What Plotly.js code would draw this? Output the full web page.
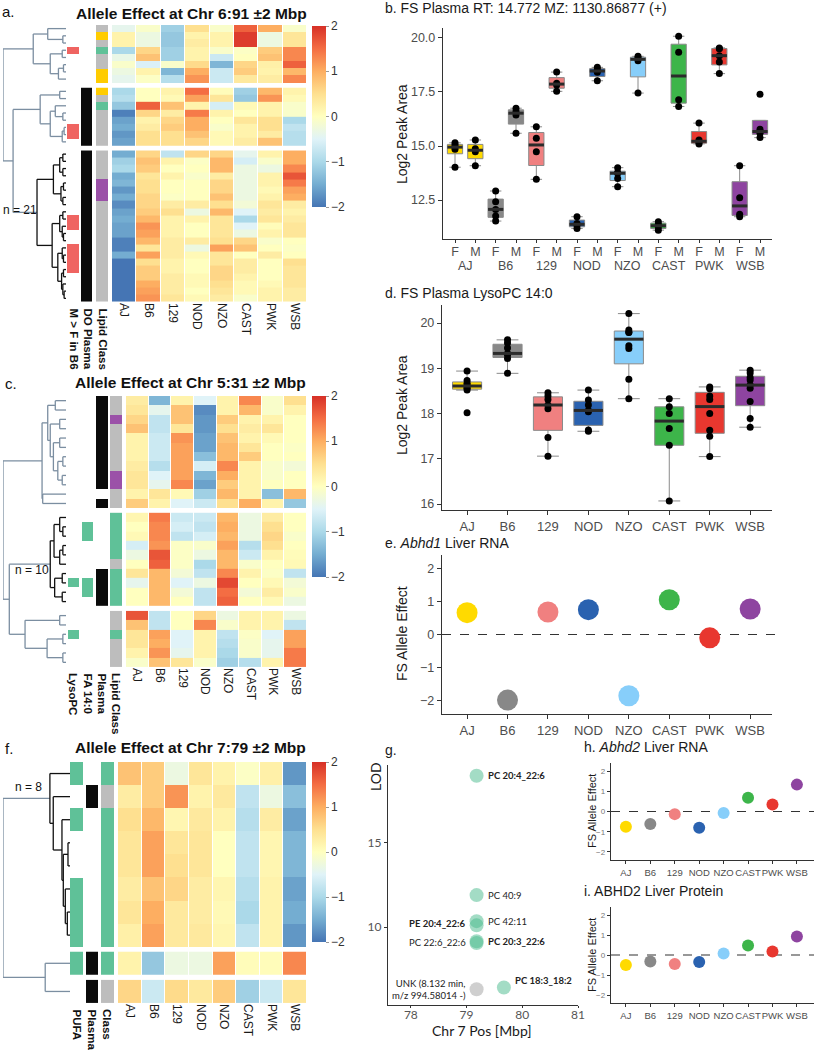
<!DOCTYPE html>
<html><head><meta charset="utf-8">
<script src="https://cdn.plot.ly/plotly-3.0.1.min.js"></script>
<style>body{margin:0;background:#fff}#chart{width:814px;height:1050px}</style>
</head><body><div id="chart"></div>
<script>
// ---------------- DATA ----------------
const strains = ['AJ','B6','129','NOD','NZO','CAST','PWK','WSB'];
const strainColors = ['#FFDA00','#888888','#F08080','#2A62B0','#87CEFA','#3DB54A','#E8372F','#8E44A0'];
const sexes = ['F','M'];
const lipidClassColors = ['#BDBDBD','#FFCC00','#5FC198','#9B51A8'];

// panel a: allele effects (rows x strains)
const aBlock1 = [
 [-0.4,-0.1,-1.1,0.5,-0.1,1.6,1.0,-0.1],
 [0.2,-0.3,-1.2,0.2,0.2,1.9,-0.3,0.4],
 [0.2,-0.3,-1.2,0.3,0.2,1.9,-0.3,0.4],
 [-1.0,0.6,-1.1,0.2,-0.1,-0.05,0.7,1.3],
 [-0.35,0.8,-1.1,0.2,-0.7,0.0,0.8,1.3],
 [-0.1,-0.55,-0.1,0.55,-1.4,0.6,0.25,1.6],
 [-0.3,0.2,-1.4,1.0,-0.7,0.7,0.2,0.9],
 [-0.4,-0.05,-0.9,1.2,-0.7,0.35,0.3,1.3]];
const aBlock2 = [
 [-1.0,0.0,0.2,1.5,0.05,-1.1,0.9,0.2],
 [-0.9,0.0,0.1,1.1,0.4,-1.2,1.2,0.1],
 [-1.2,1.6,0.8,0.2,-0.6,0.1,0.2,-0.1],
 [-1.9,0.6,0.3,1.4,0.2,0.0,0.2,-0.1],
 [-1.6,0.2,0.6,1.0,0.0,0.4,0.5,-1.0],
 [-1.5,0.3,0.7,1.0,-0.1,0.2,0.5,-0.8],
 [-1.7,0.5,0.5,0.8,0.1,0.2,0.3,-0.9],
 [-1.6,0.5,0.5,0.6,0.1,0.3,0.8,-0.9]];
const aBlock3 = [
 [-1.5,0.6,-0.8,0.6,0.6,-0.4,0.2,1.0],
 [-1.1,0.8,0.2,-0.05,0.9,-0.6,-0.1,1.0],
 [-1.0,0.7,0.0,0.0,0.9,-0.3,-0.3,1.3],
 [-1.5,0.4,0.2,-0.1,0.3,-0.3,0.2,1.7],
 [-1.4,0.5,0.0,0.0,0.6,-0.3,0.2,1.4],
 [-1.7,0.5,0.0,0.0,0.6,-0.3,0.1,1.1],
 [-1.5,0.6,-0.05,0.0,0.8,-0.3,0.2,1.0],
 [-1.8,0.6,0.3,0.3,0.5,-0.2,0.4,0.3],
 [-1.6,0.7,0.5,-0.3,0.9,-0.5,0.3,0.2],
 [-1.5,0.9,0.2,0.2,0.4,-1.0,0.4,0.3],
 [-1.6,1.2,0.2,0.0,0.4,-0.5,0.05,0.4],
 [-1.6,1.1,0.2,0.0,0.4,-0.3,0.2,0.4],
 [-1.9,0.9,0.3,0.3,0.5,0.6,-0.1,0.0],
 [-1.9,0.4,0.3,-0.3,1.1,0.8,0.0,-0.05],
 [-1.5,1.1,0.3,0.1,0.4,0.0,0.3,0.0],
 [-2.0,0.5,0.2,0.0,0.4,0.3,0.0,0.5],
 [-2.0,0.7,0.2,0.0,0.6,0.3,0.0,0.4],
 [-2.0,0.7,0.3,0.1,0.6,0.2,0.0,0.4],
 [-2.0,1.0,0.3,0.1,0.5,0.1,0.1,0.4],
 [-2.0,1.1,0.3,0.0,0.4,0.1,0.2,0.3],
 [-2.0,1.2,0.4,0.1,0.3,-0.1,0.2,0.3]];
const aMaleGtFemaleB6 = [0,0,0,1,0,0,0,0, 0,0,0,0,0,1,1,0, 0,0,0,0,0,0,0,0,0,1,1,0,0,1,1,1,1,0,0,0,0];
const aDOPlasma      = [0,0,0,0,0,0,0,0, 1,1,1,1,1,1,1,1, 1,1,1,1,1,1,1,1,1,1,1,1,1,1,1,1,1,1,1,1,1];
const aLipidClass    = [0,1,0,2,0,0,1,1, 1,0,2,0,0,0,0,0, 0,0,0,0,3,3,3,0,0,0,0,0,0,0,0,0,0,0,0,0,0];

// panel c
const cBlock1 = [
 [0.3,-1.4,0.2,-0.5,0.2,1.3,-0.1,0.5],
 [0.4,-0.4,0.8,-1.8,0.2,0.9,-0.1,0.2],
 [0.6,-0.8,0.8,-1.7,0.7,0.2,0.2,0.0],
 [0.8,-0.8,0.4,-1.7,0.5,0.3,0.4,0.0],
 [0.2,-0.7,1.2,-1.6,0.8,0.2,0.1,0.0],
 [0.2,-0.7,1.1,-1.6,0.9,0.4,0.0,-0.05],
 [0.2,-0.7,1.1,-1.3,0.9,0.7,0.0,0.0],
 [0.3,-0.9,1.1,-0.6,1.3,0.2,-0.1,-0.2],
 [0.4,-0.5,1.1,-1.4,1.0,0.2,-0.1,0.0],
 [0.4,-0.4,1.3,-1.6,0.7,0.2,0.0,0.0],
 [0.2,0.4,0.1,-1.1,0.9,0.2,-1.3,0.9],
 [0.7,0.2,-0.5,-0.7,0.5,1.0,0.2,-1.2]];
const cBlock2 = [
 [0.15,1.4,-0.7,-0.7,0.9,-0.3,0.3,0.0],
 [0.0,1.3,-0.6,-0.8,1.0,-0.3,0.5,0.0],
 [0.1,1.3,-0.8,-0.6,0.9,-0.3,0.6,-0.1],
 [-0.6,1.2,-0.05,-0.1,1.1,-0.9,0.5,0.0],
 [-0.3,1.7,-0.05,-0.3,0.9,-0.7,0.2,0.05],
 [0.0,1.6,-0.05,-1.0,0.9,-0.1,0.0,0.1],
 [0.4,0.9,-0.2,-0.8,1.3,0.2,-0.05,-0.8],
 [-0.4,0.9,-0.5,-0.3,1.8,0.0,0.1,-0.2],
 [0.0,0.9,-0.2,-0.8,1.5,-0.2,0.3,-0.1],
 [0.0,0.9,0.0,-0.8,1.6,0.0,0.1,-0.3]];
const cBlock3 = [
 [1.7,-0.8,0.0,0.6,-0.3,0.2,0.2,-0.3],
 [0.8,-0.8,0.0,1.3,-0.1,0.2,0.2,-0.8],
 [0.4,1.1,-0.5,0.2,-0.8,-0.05,-0.5,1.1],
 [0.4,1.0,-0.5,0.2,-0.9,-0.1,-0.4,1.1],
 [0.2,1.2,-0.4,0.2,-1.0,-0.1,-0.4,1.4],
 [-0.1,0.8,0.4,-0.1,-1.1,-0.9,0.2,1.4]];
const cLysoPC     = [0,0,0,0,0,0,0,0,0,0,0,0, 0,0,0,0,0,0,0,1,0,0, 0,0,1,0,0,0];
const cFA140      = [0,0,0,0,0,0,0,0,0,0,0,0, 0,1,1,0,0,0,0,1,1,0, 0,0,0,0,0,0];
const cPlasma     = [1,1,1,1,1,1,1,1,1,1,0,1, 0,0,0,0,0,0,1,1,1,1, 0,0,0,0,0,0];
const cLipidClass = [0,0,3,0,0,0,0,0,3,3,0,0, 2,2,2,2,2,0,2,2,2,2, 0,0,2,0,0,0];

// panel f
const fBlock1 = [
 [0.8,0.7,-0.3,0.4,0.2,-0.05,0.25,-1.7],
 [0.3,0.7,1.2,0.2,0.35,-0.8,-0.3,-1.3],
 [0.5,0.9,0.15,0.35,0.2,-0.9,0.3,-1.6],
 [0.4,1.1,0.4,0.4,0.0,-0.8,0.15,-1.4],
 [0.4,1.1,0.5,0.4,0.0,-0.8,0.15,-1.4],
 [0.3,0.8,0.6,0.3,0.15,-0.9,0.2,-1.6],
 [0.4,1.0,0.35,0.3,0.1,-1.0,0.2,-1.5],
 [0.25,1.1,0.35,0.35,0.15,-0.8,0.2,-1.7]];
const fBlock2 = [[0.2,-1.2,-0.3,-0.3,1.1,0.05,0.05,1.3]];
const fBlock3 = [[0.6,-0.7,0.55,0.35,0.7,-1.1,-0.7,0.4]];
const fPUFA   = [1,0,1,0,0,1,1,1, 1, 0];
const fPlasma = [0,1,0,0,0,0,0,0, 1, 1];
const fClass  = [2,0,2,2,2,2,2,2, 2, 0];

// dendrogram merge trees (leaf = row index, h = relative merge height, k = highlighted cluster)
const treeA = {h:1, c:[
  {h:0.52, c:[{h:0.29, c:[0,{h:0.05, c:[1,2]}]}, {h:0.25, c:[{h:0.06, c:[3,4]}, {h:0.12, c:[{h:0.04, c:[5,6]},7]}]}]},
  {h:0.84, c:[
    {h:0.41, c:[{h:0.10, c:[8,9]}, {h:0.25, c:[{h:0.17, c:[10,{h:0.05, c:[11,12]}]}, {h:0.06, c:[{h:0.03, c:[13,14]},15]}]}]},
    {h:0.46, k:1, c:[
      {h:0.2, c:[{h:0.1, c:[{h:0.05, c:[16,17]},{h:0.05, c:[18,19]}]}, {h:0.08, c:[{h:0.04, c:[20,21]},{h:0.05, c:[22,23]}]}]},
      {h:0.22, c:[{h:0.1, c:[{h:0.05, c:[24,25]},{h:0.06, c:[26,{h:0.04, c:[27,28]}]}]},
                  {h:0.13, c:[{h:0.06, c:[29,{h:0.04, c:[30,31]}]},{h:0.07, c:[{h:0.04, c:[32,33]},{h:0.05, c:[34,{h:0.03, c:[35,36]}]}]}]}]}
    ]}
  ]}
]};
const treeC = {h:1, c:[
  {h:0.38, c:[
    {h:0.29, c:[{h:0.17, c:[0,1]}, {h:0.25, c:[{h:0.1, c:[2,3]}, {h:0.2, c:[{h:0.1, c:[4,5]}, {h:0.13, c:[{h:0.05, c:[6,7]},{h:0.06, c:[8,9]}]}]}]}]},
    {h:0.37, c:[10,11]}]},
  {h:0.9, c:[
    {h:0.25, k:1, c:[
      {h:0.19, c:[{h:0.1, c:[12,{h:0.05, c:[13,14]}]}, {h:0.1, c:[{h:0.05, c:[15,16]},17]}]},
      {h:0.18, c:[{h:0.06, c:[18,19]},{h:0.06, c:[20,21]}]}]},
    {h:0.65, c:[{h:0.1, c:[22,23]}, {h:0.3, c:[{h:0.05, c:[24,25]},{h:0.05, c:[26,27]}]}]}
  ]}
]};
const treeF = {h:1, c:[
  {h:0.3, k:1, c:[0,{h:0.25, c:[1,{h:0.12, c:[2,{h:0.1, c:[{h:0.03, c:[3,4]},{h:0.07, c:[5,{h:0.04, c:[6,7]}]}]}]}]}]},
  {h:0.37, c:[8,9]}
]};

// panel b: log2 peak area by strain (female / male)
const bFemale = [
 [15.15,15.05,14.95,14.85,14.02],
 [12.92,12.42,12.07,11.76,11.53],
 [15.89,15.36,14.74,13.46],
 [11.73,11.42,11.34,11.19],
 [14.0,13.78,13.74,13.5,13.12],
 [11.5,11.37,11.26,11.11],
 [16.06,15.28,15.16,15.1],
 [14.09,12.61,11.85,11.73]];
const bMale = [
 [15.28,14.87,14.74,14.09],
 [16.75,16.6,16.44,15.59],
 [18.42,17.91,17.82,17.53],
 [18.64,18.53,18.41,18.02],
 [19.15,19.07,18.95,17.45],
 [20.08,19.34,17.14,16.83],
 [19.54,19.5,19.18,18.89,18.35],
 [17.4,15.78,15.67,15.59,15.39]];
// panel d
const dLysoPC = [
 [18.94,18.73,18.67,18.63,18.59,18.56,18.52,18.02],
 [19.63,19.56,19.45,19.33,19.30,19.22,18.89],
 [18.46,18.39,18.31,18.19,18.11,17.47,17.06],
 [18.52,18.30,18.19,18.07,18.04,17.64,17.61],
 [20.21,19.85,19.80,19.79,19.50,19.44,18.76,18.33],
 [18.33,18.15,18.00,17.67,17.30,16.07],
 [18.59,18.55,18.39,18.31,18.00,17.63,17.50,17.05],
 [18.96,18.90,18.80,18.74,18.63,18.56,18.27,17.89,17.70]];
// panels e, h, i
const eAbhd1RNA = [0.66,-1.98,0.68,0.75,-1.85,1.05,-0.1,0.77];
const hAbhd2RNA = [-0.75,-0.62,-0.13,-0.8,-0.07,0.68,0.35,1.33];
const iABHD2Protein = [-0.5,-0.33,-0.45,-0.35,0.08,0.47,0.17,0.92];
// panel g
const gLabels = ['PC 20:4_22:6','PC 40:9','PC 42:11','PE 20:4_22:6','PC 20:3_22:6','PC 22:6_22:6','UNK (8.132 min,<br>m/z 994.58014 -)','PC 18:3_18:2'];
const gPosMbp = [79.18,79.18,79.18,79.18,79.18,79.18,79.18,79.67];
const gLOD = [19.0,11.9,10.35,10.1,9.15,9.05,6.3,6.4];
const gUnknown = [0,0,0,0,0,0,1,0];
// label styling for panel g
const gLabelSide = ['r','r','r','l','r','l','l','r'];
const gLabelBold = [1,0,0,1,1,0,0,1];
const gLabelDy = [0,0,0,2,0,0,0,7];

// ---------------- BUILD ----------------
const W = 814, H = 1050;
const fx = p => p / W, fy = p => 1 - p / H;
const traces = [], annotations = [], shapes = [];
const FONT = 'Liberation Sans, Arial, Helvetica, sans-serif';
const layout = {
  width: W, height: H, margin: {l:0, r:0, t:0, b:0}, showlegend: false,
  paper_bgcolor: '#fff', plot_bgcolor: 'rgba(0,0,0,0)', boxmode: 'overlay',
  font: {family: FONT, color: '#1a1a1a'}, annotations, shapes
};
const axKey = a => (a[0] === 'x' ? 'xaxis' : 'yaxis') + a.slice(1);
const effectScale = [[0,'#4575b4'],[0.125,'#74add1'],[0.25,'#abd9e9'],[0.375,'#e0f3f8'],[0.5,'#ffffbf'],[0.625,'#fee090'],[0.75,'#fdae61'],[0.875,'#f46d43'],[1,'#d73027']];
function discrete(colors) { const n = colors.length, s = []; colors.forEach((c,i) => { s.push([i/n, c]); s.push([(i+1)/n, c]); }); return s; }
const flagCodes = f => f.map(v => v ? 0 : null);
function median(v) { const s = v.slice().sort((a,b) => a-b), n = s.length; return n % 2 ? s[(n-1)/2] : (s[n/2-1] + s[n/2]) / 2; }
function ann(text, x, y, o) {
  annotations.push(Object.assign({text, x: fx(x), y: fy(y), xref:'paper', yref:'paper', showarrow:false,
    xanchor:'center', yanchor:'middle', font:{size:14, color:'#1a1a1a', family: FONT}}, o || {}));
}

function dendroLines(tree, centers) {
  const seg = {g:{x:[],y:[]}, k:{x:[],y:[]}};
  function walk(node, dark) {
    if (typeof node === 'number') return {y: centers[node], h: 0};
    const d = dark || !!node.k;
    const kids = node.c.map(c => walk(c, d));
    const s = d ? seg.k : seg.g;
    const ys = kids.map(k => k.y);
    s.x.push(node.h, node.h, null); s.y.push(Math.min(...ys), Math.max(...ys), null);
    kids.forEach(k => { s.x.push(node.h, k.h, null); s.y.push(k.y, k.y, null); });
    return {y: ys.reduce((a,b) => a+b, 0) / ys.length, h: node.h};
  }
  walk(tree, false);
  return seg;
}

function heatPanel(o) {
  const colW = (o.right - o.heatLeft) / strains.length;
  const toU = p => (p - o.heatLeft) / colW;
  const centers = [], blocks = [];
  let start = 0;
  o.blocks.forEach(blk => {
    blocks.push({edges: blk.map((_, i) => start + i).concat([start + blk.length]), first: centers.length});
    blk.forEach((_, i) => centers.push(start + i + 0.5));
    start += blk.length + o.gap;
  });
  const total = start - o.gap;
  const xEdges = strains.map((_, i) => i).concat([strains.length]);
  o.blocks.forEach((blk, b) => {
    traces.push({type:'heatmap', z: blk, x: xEdges, y: blocks[b].edges, zmin:-2, zmax:2,
      colorscale: effectScale, showscale: b === 0, xgap: 1, xaxis: o.xa, yaxis: o.ya, hoverinfo:'skip',
      colorbar: {x: fx(312), xanchor:'left', xpad:0, y: fy((o.cbTop + o.cbBottom)/2), yanchor:'middle', ypad:0,
        len: o.cbBottom - o.cbTop, lenmode:'pixels', thickness: 14, outlinewidth: 0,
        tickvals:[-2,-1,0,1,2], ticktext:['\u22122','\u22121','0','1','2'], ticks:'outside', ticklen:3, tickcolor:'#999',
        tickfont:{size:12, color:'#333', family: FONT}}});
    o.annCols.forEach(col => {
      const z = blk.map((_, i) => [col.values[blocks[b].first + i]]);
      traces.push({type:'heatmap', z, x:[toU(col.l), toU(col.r)], y: blocks[b].edges, zmin:-0.5, zmax: col.colors.length - 0.5,
        colorscale: discrete(col.colors), showscale:false, xaxis:o.xa, yaxis:o.ya, hoverinfo:'skip'});
    });
  });
  layout[axKey(o.xa)] = {domain:[fx(o.annLeft), fx(o.right)], range:[toU(o.annLeft), strains.length], anchor: o.ya,
    tickvals: strains.map((_, i) => i + 0.5), ticktext: strains, tickangle: 90, ticks:'', showline:false,
    showgrid:false, zeroline:false, tickfont:{size:12, color:'#1a1a1a'}};
  layout[axKey(o.ya)] = {domain:[fy(o.bottom), fy(o.top)], range:[total, 0], anchor: o.xa, visible:false, showgrid:false, zeroline:false};
  layout[axKey(o.dxa)] = {domain:[fx(o.dLeft), fx(o.dRight)], range:[1, 0], anchor: o.ya, visible:false, showgrid:false, zeroline:false};
  const seg = dendroLines(o.tree, centers);
  [['g','#7b8ea1'],['k','#111111']].forEach(([k, c]) => {
    traces.push({type:'scatter', mode:'lines', x: seg[k].x, y: seg[k].y, xaxis:o.dxa, yaxis:o.ya,
      line:{color:c, width:1.3}, cliponaxis:false, hoverinfo:'skip', connectgaps:false});
  });
}

heatPanel({blocks:[aBlock1,aBlock2,aBlock3], gap:0.7, xa:'x', ya:'y', dxa:'x2', annLeft:67, heatLeft:112, right:307,
  top:25, bottom:302, dLeft:3, dRight:66, cbTop:26, cbBottom:207, tree: treeA,
  annCols:[{values:flagCodes(aMaleGtFemaleB6), colors:['#EF6461'], l:67, r:79},
           {values:flagCodes(aDOPlasma), colors:['#0a0a0a'], l:81, r:92},
           {values:aLipidClass, colors:lipidClassColors, l:96, r:108}]});
heatPanel({blocks:[cBlock1,cBlock2,cBlock3], gap:0.5, xa:'x3', ya:'y3', dxa:'x4', annLeft:68, heatLeft:126, right:307,
  top:396, bottom:667, dLeft:3, dRight:66, cbTop:396, cbBottom:577, tree: treeC,
  annCols:[{values:flagCodes(cLysoPC), colors:['#5FC198'], l:68, r:79},
           {values:flagCodes(cFA140), colors:['#5FC198'], l:82, r:93},
           {values:flagCodes(cPlasma), colors:['#0a0a0a'], l:96, r:108},
           {values:cLipidClass, colors:lipidClassColors, l:110, r:122}]});
heatPanel({blocks:[fBlock1,fBlock2,fBlock3], gap:0.22, xa:'x5', ya:'y5', dxa:'x6', annLeft:70, heatLeft:118, right:307,
  top:762, bottom:1003, dLeft:3, dRight:70, cbTop:762, cbBottom:942, tree: treeF,
  annCols:[{values:flagCodes(fPUFA), colors:['#5FC198'], l:70, r:83},
           {values:flagCodes(fPlasma), colors:['#0a0a0a'], l:86, r:98},
           {values:fClass, colors:lipidClassColors, l:101, r:114}]});

// heatmap titles and labels
const boldTitle = {size:15.5, color:'#111', family: FONT};
ann('a.', 0, 11, {xanchor:'left', font:{size:15, color:'#111'}});
ann('<b>Allele Effect at Chr 6:91 \u00b12 Mbp</b>', 191, 13, {font: boldTitle});
ann('n = 21', 1, 210, {xanchor:'left', font:{size:12, color:'#111'}});
[['M > F in B6',73],['DO Plasma',87],['Lipid Class',102]].forEach(([t,x]) => ann('<b>'+t+'</b>', x, 306, {textangle:90, yanchor:'top', font:{size:11.5, color:'#111'}}));
ann('c.', 3, 383, {xanchor:'left', font:{size:15, color:'#111'}});
ann('<b>Allele Effect at Chr 5:31 \u00b12 Mbp</b>', 190, 382, {font: boldTitle});
ann('n = 10', 13, 570, {xanchor:'left', font:{size:12, color:'#111'}});
[['LysoPC',73],['FA 14:0',87.5],['Plasma',102],['Lipid Class',116.5]].forEach(([t,x]) => ann('<b>'+t+'</b>', x, 671, {textangle:90, yanchor:'top', font:{size:11.5, color:'#111'}}));
ann('f.', 3, 748, {xanchor:'left', font:{size:15, color:'#111'}});
ann('<b>Allele Effect at Chr 7:79 \u00b12 Mbp</b>', 190, 747, {font: boldTitle});
ann('n = 8', 13, 787, {xanchor:'left', font:{size:12, color:'#111'}});
[['PUFA',77],['Plasma',92],['Class',107.5]].forEach(([t,x]) => ann('<b>'+t+'</b>', x, 1007, {textangle:90, yanchor:'top', font:{size:11.5, color:'#111'}}));

// common axis style
const axStyle = (o) => Object.assign({showline:true, linecolor:'#333', linewidth:1.2, ticks:'outside', ticklen:4,
  tickcolor:'#333', showgrid:false, zeroline:false, tickangle:0, tickfont:{size:12.5, color:'#4d4d4d'}}, o);

// box helper: box with thin grey outline/whiskers + thick dark median bar computed from the data
function addBox(vals, pos, width, color, xa, ya) {
  traces.push({type:'box', y: vals, x0: pos, xaxis:xa, yaxis:ya, width, fillcolor: color,
    line:{color:'#8a8a8a', width:1}, boxpoints:'all', jitter:0, pointpos:0, whiskerwidth:0.75,
    marker:{color:'#000', size:7}, hoverinfo:'skip'});
  const m = median(vals);
  traces.push({type:'scatter', mode:'lines', x:[pos - width/2, pos + width/2], y:[m, m], xaxis:xa, yaxis:ya,
    line:{color:'#2b2b2b', width:3}, hoverinfo:'skip'});
}

// panel b
strains.forEach((s, i) => {
  [bFemale[i], bMale[i]].forEach((vals, j) => addBox(vals, 2*i + j + 1, 0.75, strainColors[i], 'x7', 'y7'));
  annotations.push({text: s, x: 2*i + 1.5, xref:'x7', y: fy(266), yref:'paper', showarrow:false,
    font:{size:12.5, color:'#4d4d4d'}, yanchor:'middle'});
});
layout.xaxis7 = axStyle({domain:[fx(443), fx(772)], range:[0.41, 16.59], anchor:'y7', type:'linear', ticklen:3, ticklabelstandoff:-2,
  tickvals: strains.flatMap((_, i) => [2*i+1, 2*i+2]), ticktext: strains.flatMap(() => sexes), tickfont:{size:12.5, color:'#4d4d4d'}});
layout.yaxis7 = axStyle({domain:[fy(239), fy(28)], range:[10.7, 20.46], anchor:'x7', tickvals:[12.5,15,17.5,20], ticktext:['12.5','15.0','17.5','20.0']});
ann('b. FS Plasma RT: 14.772 MZ: 1130.86877 (+)', 383, 8, {xanchor:'left'});
ann('Log2 Peak Area', 402, 134, {textangle:-90});

// panel d
strains.forEach((s, i) => addBox(dLysoPC[i], i, 0.72, strainColors[i], 'x8', 'y8'));
layout.xaxis8 = axStyle({domain:[fx(442), fx(772)], type:'linear', range:[-0.62, 7.54], anchor:'y8',
  tickvals: strains.map((_, i) => i), ticktext: strains, tickfont:{size:13, color:'#4d4d4d'}});
layout.yaxis8 = axStyle({domain:[fy(510), fy(305)], range:[15.87, 20.4], anchor:'x8', tickvals:[16,17,18,19,20]});
ann('d. FS Plasma LysoPC 14:0', 383, 293, {xanchor:'left'});
ann('Log2 Peak Area', 402, 405, {textangle:-90});

// panel e
traces.push({type:'scatter', mode:'markers', x: strains, y: eAbhd1RNA, xaxis:'x9', yaxis:'y9',
  marker:{size:21, color: strainColors}, cliponaxis:false, hoverinfo:'skip'});
layout.xaxis9 = axStyle({domain:[fx(442), fx(772)], type:'category', categoryarray: strains, range:[-0.62, 7.54], anchor:'y9', tickfont:{size:13, color:'#4d4d4d'}});
layout.yaxis9 = axStyle({domain:[fy(714), fy(555)], range:[-2.4, 2.4], anchor:'x9', tickvals:[-2,-1,0,1,2]});
shapes.push({type:'line', xref:'x9 domain', yref:'y9', x0:0, x1:1.015, y0:0, y1:0, layer:'below', line:{dash:'dash', color:'#333', width:1.2}});
ann('e. <i>Abhd1</i> Liver RNA', 383, 543, {xanchor:'left'});
ann('FS Allele Effect', 402, 634, {textangle:-90});

// panel g
traces.push({type:'scatter', mode:'markers', x: gPosMbp, y: gLOD, xaxis:'x10', yaxis:'y10',
  marker:{size:14, color: gUnknown.map(u => u ? 'rgba(160,160,160,0.5)' : 'rgba(72,186,140,0.5)')}, cliponaxis:false, hoverinfo:'skip'});
gLabels.forEach((t, i) => {
  const right = gLabelSide[i] === 'r';
  annotations.push({text: gLabelBold[i] ? '<b>'+t+'</b>' : t, x: gPosMbp[i], y: gLOD[i], xref:'x10', yref:'y10', showarrow:false,
    xanchor: right ? 'left' : 'right', align: right ? 'left' : 'right', xshift: right ? 9 : -9, yshift: gLabelDy[i],
    font:{size:9.5, color:'#222', family:'Lato, Open Sans, sans-serif'}});
});
const gFont = {size:12, color:'#555', family:'Lato, Open Sans, sans-serif'};
layout.xaxis10 = axStyle({domain:[fx(388), fx(578)], range:[77.59, 81.0], anchor:'y10', tickvals:[78,79,80,81], ticklen:2, ticklabelstandoff:-4, tickfont:gFont});
layout.yaxis10 = axStyle({domain:[fy(1005), fy(765)], range:[5.36, 19.64], anchor:'x10', tickvals:[10,15], ticklen:3, tickfont:gFont});
ann('g.', 383, 750, {xanchor:'left'});
ann('LOD', 375, 777, {textangle:-90, font:{size:14, color:'#1a1a1a', family:'Lato, Open Sans, sans-serif'}});
ann('Chr 7 Pos [Mbp]', 482, 1030, {font:{size:14, color:'#1a1a1a', family:'Lato, Open Sans, sans-serif'}});

// panels h, i
[['x11','y11',hAbhd2RNA,860,763],['x12','y12',iABHD2Protein,1003,907]].forEach(([xa, ya, vals, bot, top]) => {
  traces.push({type:'scatter', mode:'markers', x: strains, y: vals, xaxis:xa, yaxis:ya,
    marker:{size:12, color: strainColors}, cliponaxis:false, hoverinfo:'skip'});
  layout[axKey(xa)] = axStyle({domain:[fx(611), 1], type:'category', categoryarray: strains, range:[-0.61, 7.7], anchor:ya,
    ticklen:3, tickangle:0, tickfont:{size:9.5, color:'#4d4d4d'}});
  layout[axKey(ya)] = axStyle({domain:[fy(bot), fy(top)], range:[-2.4, 2.4], anchor:xa, tickvals:[-2,-1,0,1,2], ticklen:3,
    tickfont:{size:8, color:'#777'}});
  shapes.push({type:'line', xref: xa + ' domain', yref: ya, x0:0, x1:1, y0:0, y1:0, layer:'below', line:{dash:'dash', color:'#333', width:1.2}});
});
ann('h. <i>Abhd2</i> Liver RNA', 582, 747, {xanchor:'left'});
ann('FS Allele Effect', 592, 811, {textangle:-90, font:{size:11, color:'#1a1a1a'}});
ann('i. ABHD2 Liver Protein', 582, 891, {xanchor:'left'});
ann('FS Allele Effect', 592, 955, {textangle:-90, font:{size:11, color:'#1a1a1a'}});

Plotly.newPlot('chart', traces, layout, {displayModeBar:false, staticPlot:true});
</script></body></html>
